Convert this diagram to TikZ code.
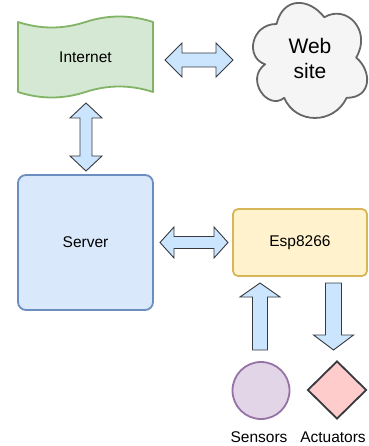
\documentclass[tikz,border=0pt]{standalone}
\usepackage{fontspec}
\setmainfont{Liberation Sans}
\usetikzlibrary{calc,shapes.geometric}
\definecolor{gfill}{HTML}{D5E8D4}\definecolor{gline}{HTML}{82B366}
\definecolor{bfill}{HTML}{DAE8FC}\definecolor{bline}{HTML}{6C8EBF}
\definecolor{yfill}{HTML}{FFF2CC}\definecolor{yline}{HTML}{D6B656}
\definecolor{pfill}{HTML}{E1D5E7}\definecolor{pline}{HTML}{9673A6}
\definecolor{rfill}{HTML}{FFCCCC}\definecolor{rline}{HTML}{36393D}
\definecolor{cfill}{HTML}{F5F5F5}\definecolor{cline}{HTML}{666666}
\definecolor{afill}{HTML}{CCE5FF}\definecolor{aline}{HTML}{36393D}
\newcommand\fatdbl[5]{%
 \draw[fat] (#1) -- ($($(#1)!#3!(#2)$)!#4!90:(#2)$) -- ($($(#1)!#3!(#2)$)!#5!90:(#2)$)
  -- ($($(#2)!#3!(#1)$)!#5!-90:(#1)$) -- ($($(#2)!#3!(#1)$)!#4!-90:(#1)$) -- (#2)
  -- ($($(#2)!#3!(#1)$)!#4!90:(#1)$) -- ($($(#2)!#3!(#1)$)!#5!90:(#1)$)
  -- ($($(#1)!#3!(#2)$)!#5!-90:(#2)$) -- ($($(#1)!#3!(#2)$)!#4!-90:(#2)$) -- cycle;}
\newcommand\fatsgl[5]{%
 \draw[fat] ($(#1)!#5!90:(#2)$) -- ($($(#2)!#3!(#1)$)!#5!-90:(#1)$)
  -- ($($(#2)!#3!(#1)$)!#4!-90:(#1)$) -- (#2)
  -- ($($(#2)!#3!(#1)$)!#4!90:(#1)$) -- ($($(#2)!#3!(#1)$)!#5!90:(#1)$)
  -- ($(#1)!#5!-90:(#2)$) -- cycle;}
\begin{document}
\begin{tikzpicture}[x=1pt,y=-1pt,
  lbl/.style={font=\fontsize{15.5}{18}\selectfont, text=black, inner sep=0pt},
  fat/.style={fill=afill, draw=aline, line width=0.9pt, line join=miter},
  boxstyle/.style={line width=1.8pt, inner sep=0pt}]
\useasboundingbox (0,0) rectangle (368,446);
% Internet tape
\fill[gfill, draw=gline, line width=1.8pt, line join=round]
  (18,22) .. controls (40.5,29.33) and (63,29.33) .. (85.5,22)
  .. controls (108,14.67) and (130.5,14.67) .. (153,22)
  -- (153,92) .. controls (130.5,84.67) and (108,84.67) .. (85.5,92)
  .. controls (63,99.33) and (40.5,99.33) .. (18,92) -- cycle;
\node[lbl, minimum width=135pt, minimum height=70pt] (inet) at (85.5,57) {Internet};
% Cloud
\fill[cfill, draw=cline, line width=1.8pt, line join=round]
  (276.55,23.98) .. controls (251.07,23.98) and (244.7,57.55) .. (265.08,64.27)
  .. controls (244.7,79.04) and (267.63,111.27) .. (284.19,97.84)
  .. controls (295.66,124.7) and (333.88,124.7) .. (346.62,97.84)
  .. controls (372.1,97.84) and (372.1,70.98) .. (356.18,57.55)
  .. controls (372.1,30.69) and (346.62,3.83) .. (324.33,17.26)
  .. controls (308.4,-2.89) and (282.92,-2.89) .. (276.55,23.98) -- cycle;
\node[lbl, font=\fontsize{21}{25}\selectfont, align=center] (web) at (310,58) {Web\\site};
% Server
\node[boxstyle, draw=bline, fill=bfill, rounded corners=8pt, minimum width=135pt, minimum height=135pt, lbl] (server) at (85.5,242.5) {Server};
% Esp8266
\node[boxstyle, draw=yline, fill=yfill, rounded corners=5pt, minimum width=134pt, minimum height=67pt, lbl] (esp) at (300,242.5) {Esp8266};
% Sensors, Actuators
\node[circle, draw=pline, fill=pfill, line width=1.8pt, minimum size=57pt, inner sep=0pt] (sens) at (261,390.5) {};
\node[diamond, draw=rline, fill=rfill, line width=1.8pt, minimum width=59pt, minimum height=58pt, inner sep=0pt] (act) at (337,390) {};
\node[lbl] (senslbl) at (259,437) {Sensors};
\node[lbl] (actlbl) at (333,437) {Actuators};
% arrow end points
\coordinate (a1l) at (165,60);  \coordinate (a1r) at (233,60);
\coordinate (a2t) at (86,103);  \coordinate (a2b) at (86,171);
\coordinate (a3l) at (160,242.5); \coordinate (a3r) at (228,242.5);
\coordinate (a4b) at (260,350); \coordinate (a4t) at (260,283);
\coordinate (a5t) at (333.5,283); \coordinate (a5b) at (333.5,350);
\fatdbl{a1l}{a1r}{17pt}{17pt}{7pt}
\fatdbl{a2t}{a2b}{15pt}{16pt}{6pt}
\fatdbl{a3l}{a3r}{14pt}{15.5pt}{6pt}
\fatsgl{a4b}{a4t}{14pt}{20pt}{7.5pt}
\fatsgl{a5t}{a5b}{15pt}{20pt}{8pt}
\end{tikzpicture}
\end{document}
